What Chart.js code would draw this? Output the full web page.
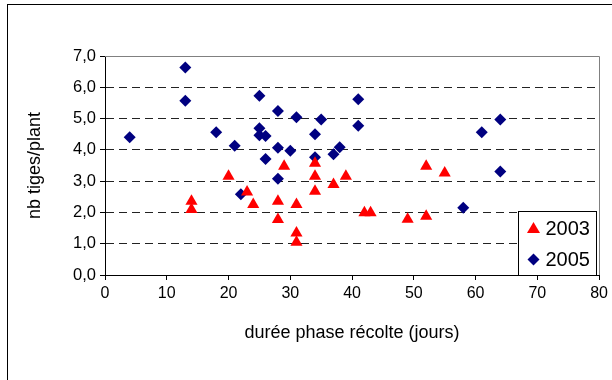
<!DOCTYPE html>
<html>
<head>
<meta charset="utf-8">
<script src="https://cdn.jsdelivr.net/npm/chart.js@4.4.0/dist/chart.umd.min.js"></script>
<style>
  html, body { margin: 0; padding: 0; background: #fff; }
  #wrap { width: 612px; height: 380px; }
</style>
</head>
<body>
<div id="wrap"><canvas id="scatterChart" width="612" height="380"></canvas></div>
<script>
// Values
const seriesNames = ['2003', '2005'];
const x2003 = [14, 14, 20, 23, 24, 28, 28, 29, 31, 31, 31, 34, 34, 34, 37, 39, 42, 43, 49, 52, 52, 55];
const y2003 = [2.36, 2.09, 3.16, 2.65, 2.25, 2.36, 1.77, 3.48, 2.25, 1.34, 1.05, 3.57, 3.16, 2.68, 2.89, 3.16, 1.99, 1.99, 1.78, 3.48, 1.88, 3.26];
const x2005 = [4, 13, 13, 18, 21, 22, 25, 25, 25, 26, 26, 28, 28, 28, 30, 31, 34, 34, 35, 37, 38, 41, 41, 58, 61, 64, 64];
const y2005 = [4.40, 6.63, 5.57, 4.56, 4.13, 2.58, 5.73, 4.69, 4.47, 4.44, 3.71, 5.24, 4.07, 3.08, 3.97, 5.04, 4.50, 3.76, 4.97, 3.86, 4.08, 5.62, 4.77, 2.15, 4.56, 4.97, 3.31];
const xTickLabels = ['0', '10', '20', '30', '40', '50', '60', '70', '80'];
const yTickLabels = ['0,0', '1,0', '2,0', '3,0', '4,0', '5,0', '6,0', '7,0'];
const xTitle = 'durée phase récolte (jours)';
const yTitle = 'nb tiges/plant';

const FONT = "'Liberation Sans', Arial, sans-serif";
const RED = '#ff0000';
const NAVY = '#000080';

function toPoints(xs, ys) {
    return xs.map((x, i) => ({ x: x, y: ys[i] }));
}

// Outer frame, plot area border and the boxed legend
const chartDecor = {
    id: 'chartDecor',
    beforeDraw(chart) {
        const ctx = chart.ctx;
        ctx.save();
        ctx.fillStyle = '#fff';
        ctx.fillRect(0, 0, chart.width, chart.height);
        ctx.strokeStyle = '#000';
        ctx.lineWidth = 1;
        ctx.strokeRect(7.5, 4.5, chart.width + 20, chart.height + 20);
        ctx.restore();
    },
    beforeDatasetsDraw(chart) {
        const ctx = chart.ctx;
        const a = chart.chartArea;
        ctx.save();
        ctx.strokeStyle = '#808080';
        ctx.lineWidth = 1;
        ctx.beginPath();
        ctx.moveTo(Math.round(a.left), Math.round(a.top) + 0.5);
        ctx.lineTo(Math.round(a.right) + 0.5, Math.round(a.top) + 0.5);
        ctx.lineTo(Math.round(a.right) + 0.5, Math.round(a.bottom));
        ctx.stroke();
        ctx.restore();
    },
    afterDraw(chart) {
        const ctx = chart.ctx;
        const a = chart.chartArea;
        const w = 78, h = 64;
        const bx = Math.round(a.right) - w - 2.5;
        const by = Math.round(a.bottom) - h + 0.5;
        ctx.save();
        ctx.fillStyle = '#fff';
        ctx.fillRect(bx, by, w, h);
        ctx.strokeStyle = '#000';
        ctx.lineWidth = 1;
        ctx.strokeRect(bx, by, w, h);
        ctx.font = '20px ' + FONT;
        ctx.textBaseline = 'middle';
        chart.data.datasets.forEach((ds, i) => {
            const cy = by + 17 + i * 31;
            const cx = bx + 15;
            ctx.fillStyle = ds.backgroundColor;
            ctx.beginPath();
            if (ds.pointStyle === 'triangle') {
                ctx.moveTo(cx, cy - 6.5);
                ctx.lineTo(cx + 6.5, cy + 4.5);
                ctx.lineTo(cx - 6.5, cy + 4.5);
            } else {
                ctx.moveTo(cx, cy - 6);
                ctx.lineTo(cx + 6, cy);
                ctx.lineTo(cx, cy + 6);
                ctx.lineTo(cx - 6, cy);
            }
            ctx.closePath();
            ctx.fill();
            ctx.fillStyle = '#000';
            ctx.fillText(ds.label, bx + 27, cy + 1);
        });
        ctx.restore();
    }
};

const ctx = document.getElementById('scatterChart');
new Chart(ctx, {
    type: 'scatter',
    data: {
        datasets: [{
            label: seriesNames[0],
            data: toPoints(x2003, y2003),
            pointStyle: 'triangle',
            pointRadius: 7,
            backgroundColor: RED,
            borderColor: RED,
            borderWidth: 0
        }, {
            label: seriesNames[1],
            data: toPoints(x2005, y2005),
            pointStyle: 'rectRot',
            pointRadius: 6,
            backgroundColor: NAVY,
            borderColor: NAVY,
            borderWidth: 0
        }]
    },
    options: {
        responsive: false,
        animation: false,
        layout: {
            padding: { top: 56, right: 9, left: 0, bottom: 0 }
        },
        plugins: {
            legend: { display: false },
            tooltip: { enabled: false }
        },
        scales: {
            x: {
                type: 'linear',
                min: 0,
                max: 80,
                afterFit: function (scale) { scale.height = 105; },
                ticks: {
                    stepSize: 10,
                    color: '#000',
                    padding: 4,
                    font: { family: FONT, size: 16 },
                    callback: (v, i) => xTickLabels[i]
                },
                grid: {
                    drawOnChartArea: false,
                    drawTicks: true,
                    tickLength: 5,
                    tickColor: '#000'
                },
                border: { color: '#000', width: 1 },
                title: {
                    display: true,
                    text: xTitle,
                    color: '#000',
                    font: { family: FONT, size: 18 },
                    padding: { top: 0, bottom: 36 }
                }
            },
            y: {
                min: 0,
                max: 7,
                afterFit: function (scale) { scale.width = 105; },
                ticks: {
                    stepSize: 1,
                    color: '#000',
                    padding: 4,
                    font: { family: FONT, size: 16.5 },
                    callback: (v, i) => yTickLabels[i]
                },
                grid: {
                    color: (c) => (c.tick && (c.tick.value === 0 || c.tick.value === 7)) ? 'rgba(0,0,0,0)' : '#222',
                    lineWidth: 1,
                    tickLength: 5,
                    tickColor: '#000'
                },
                border: { color: '#000', width: 1, dash: [8, 5] },
                title: {
                    display: true,
                    text: yTitle,
                    color: '#000',
                    font: { family: FONT, size: 18 },
                    padding: { top: 24, bottom: 0 }
                }
            }
        }
    },
    plugins: [chartDecor]
});
</script>
</body>
</html>
